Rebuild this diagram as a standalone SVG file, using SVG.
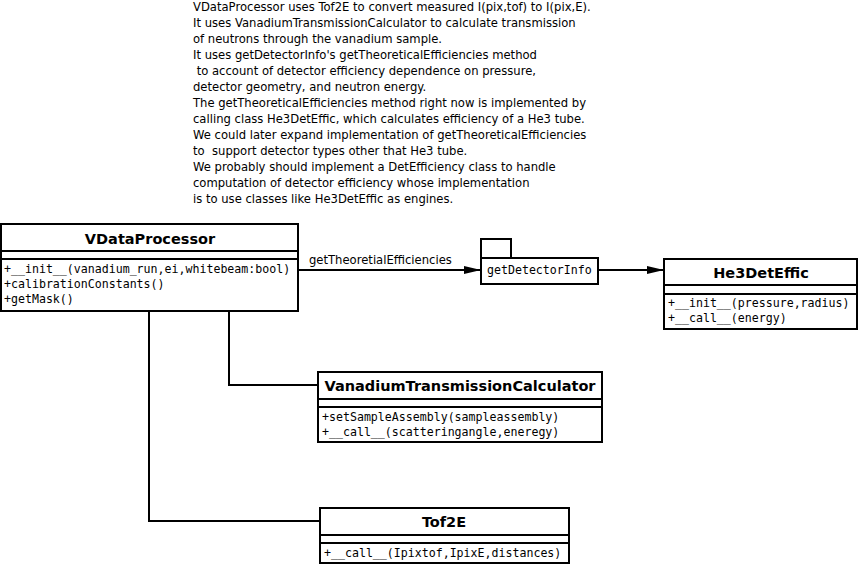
<svg xmlns="http://www.w3.org/2000/svg" width="859" height="566" viewBox="0 0 859 566">
<defs>
<style>
.box{fill:#fff;stroke:#000;stroke-width:2}
.ln{fill:none;stroke:#000;stroke-width:2}
.title{font-family:"DejaVu Sans",sans-serif;font-weight:bold;font-size:14.5px;text-anchor:middle;fill:#000}
.mono{font-family:"DejaVu Sans Mono",monospace;font-size:11.6px;fill:#000}
.note{font-family:"DejaVu Sans",sans-serif;font-size:11.6px;fill:#000}
</style>
<marker id="arr" markerWidth="18" markerHeight="10" refX="17" refY="5" orient="auto" markerUnits="userSpaceOnUse">
<path d="M0,1 L17,5 L0,9 Z" fill="#000"/>
</marker>
</defs>
<rect width="859" height="566" fill="#fff"/>
<g id="note">
<text class="note" x="193" y="11">VDataProcessor uses Tof2E to convert measured I(pix,tof) to I(pix,E).</text>
<text class="note" x="193" y="27">It uses VanadiumTransmissionCalculator to calculate transmission</text>
<text class="note" x="193" y="43">of neutrons through the vanadium sample.</text>
<text class="note" x="193" y="59">It uses getDetectorInfo's getTheoreticalEfficiencies method</text>
<text class="note" x="193" y="75" xml:space="preserve"> to account of detector efficiency dependence on pressure,</text>
<text class="note" x="193" y="91">detector geometry, and neutron energy.</text>
<text class="note" x="193" y="107">The getTheoreticalEfficiencies method right now is implemented by</text>
<text class="note" x="193" y="123">calling class He3DetEffic, which calculates efficiency of a He3 tube.</text>
<text class="note" x="193" y="139">We could later expand implementation of getTheoreticalEfficiencies</text>
<text class="note" x="193" y="155" xml:space="preserve">to  support detector types other that He3 tube.</text>
<text class="note" x="193" y="171">We probably should implement a DetEfficiency class to handle</text>
<text class="note" x="193" y="187">computation of detector efficiency whose implementation</text>
<text class="note" x="193" y="203">is to use classes like He3DetEffic as engines.</text>
</g>
<g id="connectors">
<path class="ln" d="M298,270 H481" marker-end="url(#arr)"/>
<text class="note" x="309" y="264">getTheoretialEfficiencies</text>
<path class="ln" d="M598,270 H664" marker-end="url(#arr)"/>
<path class="ln" d="M229,311 V385 H318"/>
<path class="ln" d="M149,311 V521 H320"/>
</g>
<g id="VDataProcessor">
<rect class="box" x="1" y="224" width="297" height="87"/>
<path class="ln" d="M1,251 H298 M1,259 H298"/>
<text class="title" x="150" y="244">VDataProcessor</text>
<text class="mono" x="4" y="273" xml:space="preserve">+__init__(vanadium_run,ei,whitebeam:bool)</text>
<text class="mono" x="4" y="288">+calibrationConstants()</text>
<text class="mono" x="4" y="303">+getMask()</text>
</g>
<g id="getDetectorInfo">
<rect class="box" x="481" y="239" width="30" height="19"/>
<rect class="box" x="481" y="258" width="117" height="26"/>
<text class="mono" x="487" y="274">getDetectorInfo</text>
</g>
<g id="He3DetEffic">
<rect class="box" x="664" y="259" width="193" height="70"/>
<path class="ln" d="M664,285 H857 M664,294 H857"/>
<text class="title" x="761" y="278">He3DetEffic</text>
<text class="mono" x="668" y="307">+__init__(pressure,radius)</text>
<text class="mono" x="668" y="322">+__call__(energy)</text>
</g>
<g id="VanadiumTransmissionCalculator">
<rect class="box" x="318" y="372" width="284" height="70"/>
<path class="ln" d="M318,399 H602 M318,407 H602"/>
<text class="title" x="460" y="391">VanadiumTransmissionCalculator</text>
<text class="mono" x="322" y="421">+setSampleAssembly(sampleassembly)</text>
<text class="mono" x="322" y="436">+__call__(scatteringangle,eneregy)</text>
</g>
<g id="Tof2E">
<rect class="box" x="320" y="508" width="249" height="55"/>
<path class="ln" d="M320,535 H569 M320,543 H569"/>
<text class="title" x="444" y="527">Tof2E</text>
<text class="mono" x="324" y="557">+__call__(Ipixtof,IpixE,distances)</text>
</g>
</svg>
